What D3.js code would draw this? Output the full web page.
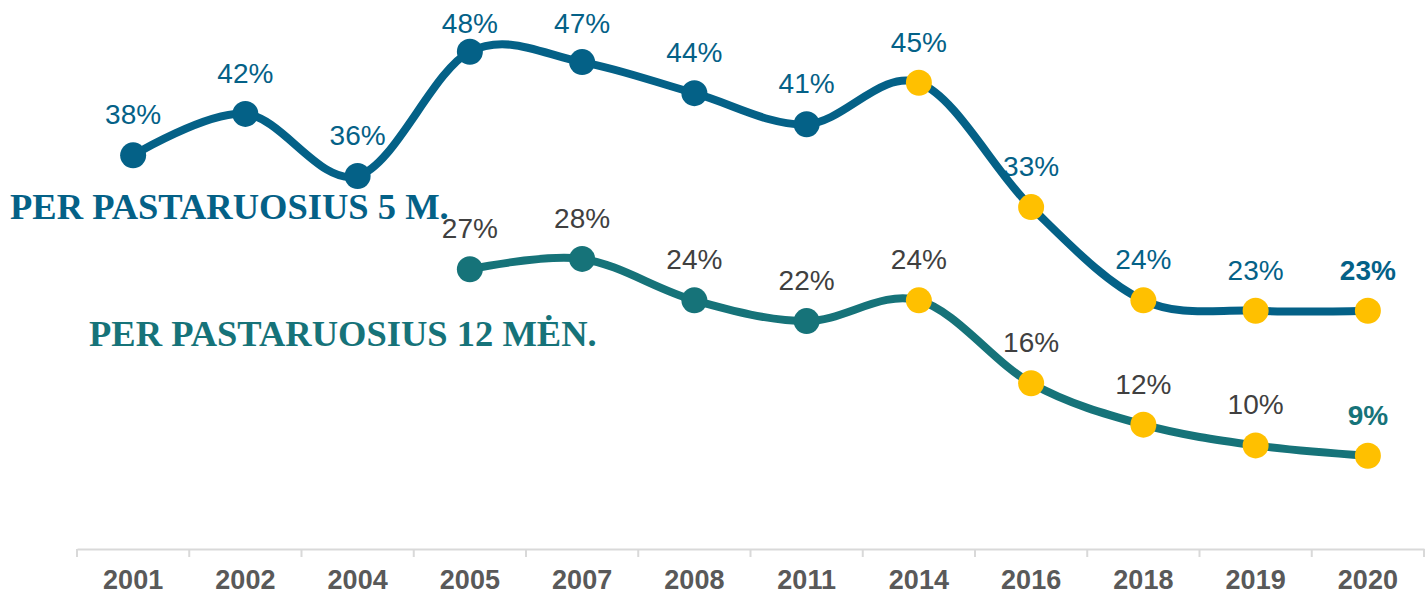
<!DOCTYPE html>
<html>
<head>
<meta charset="utf-8">
<script src="https://cdn.jsdelivr.net/npm/d3@7"></script>
<style>
  body { margin: 0; background: #fff; }
  svg { display: block; }
</style>
</head>
<body>
<div id="chart"></div>
<script>
// survey years (x axis)
const years = ["2001", "2002", "2004", "2005", "2007", "2008", "2011", "2014", "2016", "2018", "2019", "2020"];
// share, per last 5 years
const last5m = [38, 42, 36, 48, 47, 44, 41, 45, 33, 24, 23, 23];
// share, per last 12 months (not asked before 2005)
const last12m = [null, null, null, 27, 28, 24, 22, 24, 16, 12, 10, 9];
// years drawn with yellow markers
const highlightFrom = "2014";
const seriesNames = ["PER PASTARUOSIUS 5 M.", "PER PASTARUOSIUS 12 MĖN."];

const width = 1426, height = 594;
const blue = "#046187", teal = "#167379", yellow = "#FFC000";

const svg = d3.select("#chart")
  .append("svg")
  .attr("width", width)
  .attr("height", height);

const axisY = 549;

const xBand = d3.scaleBand().domain(years).range([77, 1424]);
const x = d3.scalePoint().domain(years).range([77, 1424]).padding(0.5);
const y = d3.scaleLinear().domain([0, 50]).range([axisY, 31]);

// axis: light line, ticks on band boundaries, bold year labels
const axis = svg.append("g")
  .attr("transform", `translate(0,${axisY})`)
  .call(d3.axisBottom(xBand).tickSize(0).tickPadding(21));
axis.select(".domain").attr("stroke", "#d9d9d9").attr("stroke-width", 2);
axis.selectAll("text")
  .attr("fill", "#595959")
  .style("font", "bold 27px 'Liberation Sans', Arial, sans-serif");

const edges = years.map(d => xBand(d)).concat([xBand.range()[1]]);
axis.selectAll(".edge")
  .data(edges)
  .enter()
  .append("line")
  .attr("class", "edge")
  .attr("x1", d => d).attr("x2", d => d)
  .attr("y1", 0).attr("y2", 8)
  .attr("stroke", "#d9d9d9")
  .attr("stroke-width", 2);

const line = d3.line()
  .defined(d => d.v != null)
  .x(d => x(d.year))
  .y(d => y(d.v))
  .curve(d3.curveCardinal.tension(0));

const hiIndex = years.indexOf(highlightFrom);

function drawSeries(values, color, labelColor) {
  const data = years.map((year, i) => ({ year, v: values[i], i }));
  const pts = data.filter(d => d.v != null);
  const last = pts[pts.length - 1];

  const g = svg.append("g");

  g.append("path")
    .datum(data)
    .attr("fill", "none")
    .attr("stroke", color)
    .attr("stroke-width", 8)
    .attr("d", line);

  g.selectAll("circle")
    .data(pts)
    .enter()
    .append("circle")
    .attr("cx", d => x(d.year))
    .attr("cy", d => y(d.v))
    .attr("r", 13)
    .attr("fill", d => d.i >= hiIndex ? yellow : color);

  g.selectAll("text")
    .data(pts)
    .enter()
    .append("text")
    .attr("x", d => x(d.year))
    .attr("y", d => Math.max(y(d.v) - 31, 33))
    .attr("text-anchor", "middle")
    .attr("fill", d => d === last ? color : labelColor)
    .style("font-family", "'Liberation Sans', Arial, sans-serif")
    .style("font-size", "28px")
    .style("font-weight", d => d === last ? "bold" : "normal")
    .text(d => d.v + "%");
}

drawSeries(last5m, blue, blue);
drawSeries(last12m, teal, "#404040");

// series names written into the plot
const names = [
  { text: seriesNames[0], x: 10, y: 219, color: blue },
  { text: seriesNames[1], x: 89, y: 346, color: teal }
];
svg.selectAll(".name")
  .data(names)
  .enter()
  .append("text")
  .attr("class", "name")
  .attr("x", d => d.x)
  .attr("y", d => d.y)
  .attr("fill", d => d.color)
  .style("font", "bold 36.5px 'Liberation Serif', 'Times New Roman', serif")
  .text(d => d.text);
</script>
</body>
</html>
